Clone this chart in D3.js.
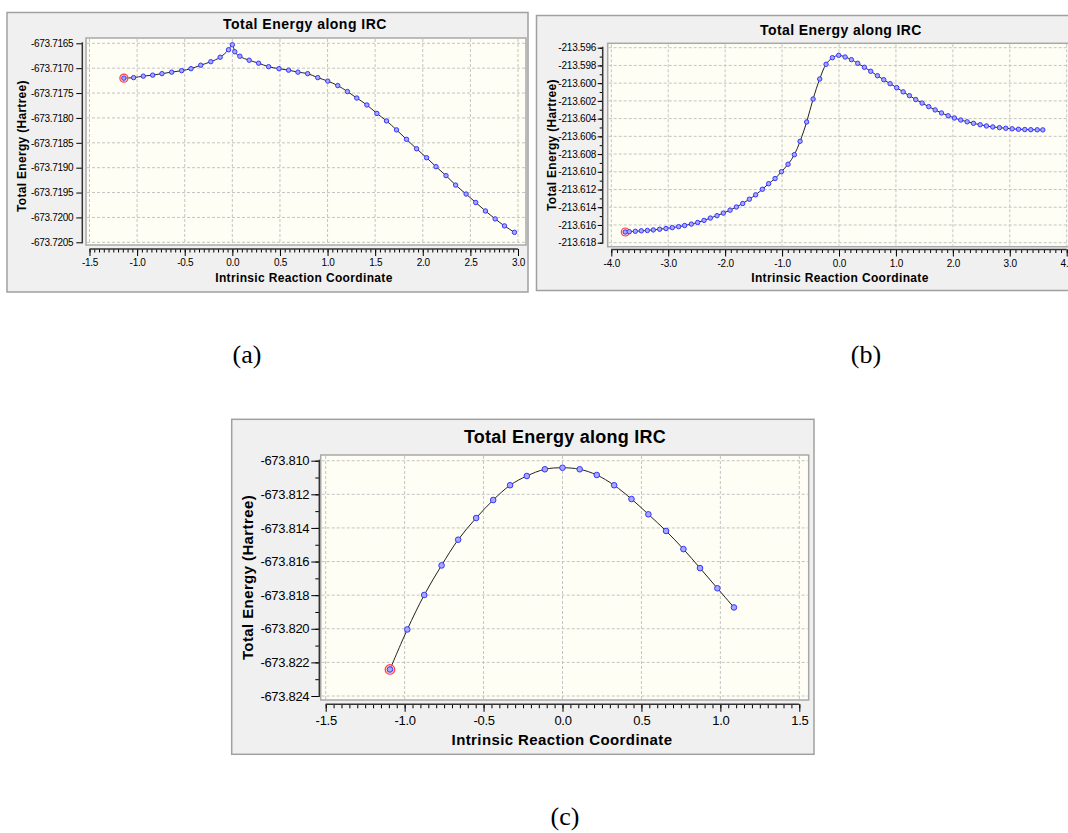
<!DOCTYPE html>
<html><head><meta charset="utf-8">
<script src="https://cdn.jsdelivr.net/npm/d3@7"></script>
<style>body{margin:0;background:#fff} svg{display:block}</style>
</head><body>
<svg id="c" width="1068" height="833"></svg>
<script>
// ---------- Panel (a) ----------
const A_x = [-1.139, -1.037, -0.935, -0.837, -0.739, -0.637, -0.532, -0.434, -0.332, -0.226,
  -0.128, -0.04, 0.0, 0.026, 0.079, 0.177, 0.276, 0.381, 0.49, 0.591,
  0.689, 0.791, 0.897, 1.002, 1.107, 1.209, 1.307, 1.413, 1.518, 1.619,
  1.724, 1.829, 1.935, 2.04, 2.139, 2.244, 2.345, 2.455, 2.556, 2.658,
  2.76, 2.858, 2.963];
const A_y = [-673.71720, -673.71719, -673.71716, -673.71714, -673.71711, -673.71708, -673.71705, -673.71701, -673.71694, -673.71687,
  -673.71678, -673.71663, -673.71653, -673.71667, -673.71676, -673.71684, -673.71690, -673.71697, -673.71701, -673.71704,
  -673.71708, -673.71711, -673.71719, -673.71726, -673.71735, -673.71747, -673.71760, -673.71774, -673.71791, -673.71806,
  -673.71824, -673.71843, -673.71862, -673.71880, -673.71898, -673.71916, -673.71935, -673.71953, -673.71970, -673.71987,
  -673.72003, -673.72017, -673.72030];
const A_xTicks = [-1.5, -1.0, -0.5, 0.0, 0.5, 1.0, 1.5, 2.0, 2.5, 3.0];
const A_yTicks = [-673.7165, -673.7170, -673.7175, -673.7180, -673.7185, -673.7190, -673.7195, -673.7200, -673.7205];

// ---------- Panel (b) ----------
const B_x = [-3.754, -3.684, -3.578, -3.473, -3.367, -3.262, -3.151, -3.04, -2.928, -2.817,
  -2.712, -2.594, -2.483, -2.371, -2.26, -2.143, -2.032, -1.914, -1.803, -1.692,
  -1.575, -1.464, -1.346, -1.236, -1.123, -1.012, -0.895, -0.784, -0.684, -0.568,
  -0.455, -0.339, -0.227, -0.116, -0.005, 0.107, 0.218, 0.329, 0.446, 0.557,
  0.675, 0.786, 0.898, 1.014, 1.127, 1.237, 1.348, 1.46, 1.576, 1.689,
  1.8, 1.917, 2.028, 2.139, 2.251, 2.362, 2.48, 2.59, 2.701, 2.819,
  2.93, 3.042, 3.153, 3.264, 3.369, 3.482, 3.58];
const B_y = [-213.61679, -213.61676, -213.61671, -213.61666, -213.61662, -213.61656, -213.61648, -213.61640, -213.61630, -213.61619,
  -213.61606, -213.61590, -213.61572, -213.61548, -213.61522, -213.61495, -213.61466, -213.61433, -213.61397, -213.61358,
  -213.61309, -213.61260, -213.61197, -213.61134, -213.61076, -213.60999, -213.60915, -213.60807, -213.60656, -213.60438,
  -213.60179, -213.59953, -213.59787, -213.59713, -213.59686, -213.59705, -213.59735, -213.59776, -213.59821, -213.59866,
  -213.59916, -213.59961, -213.60006, -213.60051, -213.60098, -213.60141, -213.60185, -213.60225, -213.60265, -213.60302,
  -213.60336, -213.60368, -213.60393, -213.60416, -213.60436, -213.60453, -213.60469, -213.60483, -213.60494, -213.60502,
  -213.60509, -213.60515, -213.60520, -213.60523, -213.60525, -213.60526, -213.60527];
const B_xTicks = [-4.0, -3.0, -2.0, -1.0, 0.0, 1.0, 2.0, 3.0, 4.0];
const B_yTicks = [-213.596, -213.598, -213.600, -213.602, -213.604, -213.606, -213.608, -213.610, -213.612, -213.614, -213.616, -213.618];

// ---------- Panel (c) ----------
const C_x = [-1.093, -0.983, -0.876, -0.766, -0.661, -0.547, -0.439, -0.332, -0.226, -0.112,
  0.0, 0.109, 0.217, 0.327, 0.437, 0.544, 0.656, 0.766, 0.871, 0.981, 1.086];
const C_y = [-673.82242, -673.82004, -673.81799, -673.81623, -673.81470, -673.81341, -673.81234, -673.81146, -673.81091, -673.81051,
  -673.81042, -673.81051, -673.81085, -673.81146, -673.81228, -673.81319, -673.81418, -673.81526, -673.81639, -673.81759, -673.81873];
const C_xTicks = [-1.5, -1.0, -0.5, 0.0, 0.5, 1.0, 1.5];
const C_yTicks = [-673.810, -673.812, -673.814, -673.816, -673.818, -673.820, -673.822, -673.824];

const TITLE = "Total Energy along IRC";
const XTITLE = "Intrinsic Reaction Coordinate";
const YTITLE = "Total Energy (Hartree)";
const CAPTIONS = ["(a)", "(b)", "(c)"];

const FONT = "'Liberation Sans', Arial, sans-serif";
const svg = d3.select("#c");
svg.append("rect").attr("width", 1068).attr("height", 833).attr("fill", "#fff");

function steps(first, last, step) {
  const n = Math.round(Math.abs(last - first) / step);
  const s = last >= first ? 1 : -1;
  return d3.range(n + 1).map(i => first + s * i * step);
}

function drawPanel(p) {
  const g = svg.append("g");
  g.append("rect").attr("x", p.frame[0]).attr("y", p.frame[1])
    .attr("width", p.frame[2]).attr("height", p.frame[3])
    .attr("fill", "#f0f0f0").attr("stroke", "#a0a0a0").attr("stroke-width", 1.5);

  const x = d3.scaleLinear().domain([p.xTicks[0], p.xTicks[p.xTicks.length - 1]]).range(p.xRange);
  const y = d3.scaleLinear().domain([p.yTicks[0], p.yTicks[p.yTicks.length - 1]]).range(p.yRange);

  // plot area
  g.append("rect").attr("x", p.plot[0]).attr("y", p.plot[1])
    .attr("width", p.plot[2] - p.plot[0]).attr("height", p.plot[3] - p.plot[1])
    .attr("fill", "#fefef4").attr("stroke", "#a8a8a8").attr("stroke-width", 1.5);

  // grid
  const grid = g.append("g").attr("stroke", "#c4c4c4").attr("stroke-width", 1).attr("stroke-dasharray", "3,2");
  grid.selectAll("line.v").data(p.xTicks).join("line").attr("class", "v")
    .attr("x1", d => x(d)).attr("x2", d => x(d))
    .attr("y1", p.plot[1] + 1).attr("y2", p.plot[3] - 1);
  grid.selectAll("line.h").data(p.yTicks).join("line").attr("class", "h")
    .attr("y1", d => y(d)).attr("y2", d => y(d))
    .attr("x1", p.plot[0] + 1).attr("x2", p.plot[2] - 1);

  const styleAxis = sel => {
    sel.select(".domain").remove();
    sel.selectAll(".tick line").attr("stroke", "#000");
    sel.selectAll(".tick text").attr("fill", "#000")
      .style("font-family", FONT).style("font-size", p.tickFont + "px")
      .style("letter-spacing", p.tickLS + "px");
  };

  // x axis
  const xa = g.append("g").attr("transform", `translate(0,${p.xAxisY})`);
  xa.append("g").call(d3.axisBottom(x).tickValues(steps(p.xTicks[0], p.xTicks[p.xTicks.length - 1], p.xMinor))
    .tickSize(p.xMinorLen).tickFormat("")).call(styleAxis);
  xa.append("g").call(d3.axisBottom(x).tickValues(p.xTicks).tickSize(p.xMajorLen).tickPadding(p.xPad)
    .tickFormat(d => d.toFixed(1))).call(styleAxis);
  xa.append("line").attr("x1", x(p.xTicks[0])).attr("x2", Math.min(x(p.xTicks[p.xTicks.length - 1]), p.plot[2]))
    .attr("stroke", "#333").attr("stroke-width", 1.5);

  // y axis
  const ya = g.append("g").attr("transform", `translate(${p.yAxisX},0)`);
  if (p.yMinor) {
    ya.append("g").call(d3.axisLeft(y).tickValues(steps(p.yTicks[0], p.yTicks[p.yTicks.length - 1], p.yMinor))
      .tickSize(p.yMinorLen).tickFormat("")).call(styleAxis);
  }
  ya.append("g").call(d3.axisLeft(y).tickValues(p.yTicks).tickSize(p.yMajorLen).tickPadding(p.yPad)
    .tickFormat(d => d.toFixed(p.yDec))).call(styleAxis);
  ya.append("line").attr("y1", y(p.yTicks[0]) - 1).attr("y2", y(p.yTicks[p.yTicks.length - 1]) + 1)
    .attr("stroke", "#333").attr("stroke-width", 1.5);

  // data
  const pts = p.xs.map((v, i) => [v, p.ys[i]]);
  const line = d3.line().x(d => x(d[0])).y(d => y(d[1])).curve(p.curve);
  g.append("path").attr("d", line(pts)).attr("fill", "none").attr("stroke", "#222").attr("stroke-width", 1);
  g.append("circle").attr("cx", x(pts[0][0])).attr("cy", y(pts[0][1])).attr("r", p.rRed)
    .attr("fill", "#ffb8b8").attr("fill-opacity", 0.6).attr("stroke", "#ff4040").attr("stroke-width", 1.2);
  g.append("g").selectAll("circle").data(pts).join("circle")
    .attr("cx", d => x(d[0])).attr("cy", d => y(d[1])).attr("r", p.r)
    .attr("fill", "#a8a8ff").attr("stroke", "#3535ff").attr("stroke-width", 1);

  // texts
  g.append("text").attr("x", p.title[0]).attr("y", p.title[1]).attr("text-anchor", "middle")
    .style("font-family", FONT).style("font-weight", "bold").style("font-size", p.title[2] + "px")
    .style("letter-spacing", p.title[3] + "px").text(TITLE);
  g.append("text").attr("x", p.xTitle[0]).attr("y", p.xTitle[1]).attr("text-anchor", "middle")
    .style("font-family", FONT).style("font-weight", "bold").style("font-size", p.xTitle[2] + "px")
    .style("letter-spacing", p.xTitle[3] + "px").text(XTITLE);
  g.append("text").attr("transform", `translate(${p.yTitle[0]},${p.yTitle[1]}) rotate(-90)`).attr("text-anchor", "middle")
    .style("font-family", FONT).style("font-weight", "bold").style("font-size", p.yTitle[2] + "px")
    .style("letter-spacing", p.yTitle[3] + "px").text(YTITLE);
  svg.append("text").attr("x", p.caption[0]).attr("y", p.caption[1]).attr("text-anchor", "middle")
    .style("font-family", "'Liberation Serif', 'Times New Roman', serif").style("font-size", "26px")
    .text(p.caption[2]);
}

drawPanel({
  xs: A_x, ys: A_y, xTicks: A_xTicks, yTicks: A_yTicks,
  frame: [7, 12.5, 521, 279.5], plot: [86, 38, 526, 245],
  xRange: [89.5, 518], yRange: [43.3, 242.3],
  xAxisY: 249, yAxisX: 82.3, xMinor: 0.05, xMinorLen: 3.5, xMajorLen: 7, xPad: 3.2,
  yMinor: null, yMajorLen: 6, yPad: 3, yDec: 4, tickFont: 10, tickLS: -0.3,
  r: 2.2, rRed: 4, curve: d3.curveMonotoneX,
  title: [305, 29.3, 14, 0.5], xTitle: [304, 281.7, 12, 0.35], yTitle: [26, 146, 12, 0.3],
  caption: [247, 363, CAPTIONS[0]]
});
drawPanel({
  xs: B_x, ys: B_y, xTicks: B_xTicks, yTicks: B_yTicks,
  frame: [536.5, 15.5, 560, 275], plot: [607.7, 43.3, 1090, 246.7],
  xRange: [611.3, 1066.7], yRange: [47.7, 242.7],
  xAxisY: 249.5, yAxisX: 602.7, xMinor: 0.1, xMinorLen: 3.5, xMajorLen: 7, xPad: 3.2,
  yMinor: 0.001, yMinorLen: 3, yMajorLen: 5, yPad: 1.5, yDec: 3, tickFont: 10, tickLS: -0.2,
  r: 2.2, rRed: 4, curve: d3.curveCatmullRom,
  title: [841, 35, 14, 0.4], xTitle: [840, 281.7, 12, 0.35], yTitle: [555.7, 145, 12, 0.3],
  caption: [866, 363, CAPTIONS[1]]
});
drawPanel({
  xs: C_x, ys: C_y, xTicks: C_xTicks, yTicks: C_yTicks,
  frame: [231.7, 419.3, 582.3, 335], plot: [320.7, 455, 808.7, 700],
  xRange: [325.7, 799.3], yRange: [460.7, 696],
  xAxisY: 704.3, yAxisX: 319.3, xMinor: 0.05, xMinorLen: 4, xMajorLen: 7.5, xPad: 4.3,
  yMinor: 0.001, yMinorLen: 4, yMajorLen: 8, yPad: 2, yDec: 3, tickFont: 13, tickLS: -0.3,
  r: 2.8, rRed: 4.8, curve: d3.curveCatmullRom,
  title: [565, 443.3, 18, 0.25], xTitle: [562, 745, 15, 0.4], yTitle: [252.7, 577.5, 15, 0.4],
  caption: [565, 825, CAPTIONS[2]]
});
</script>
</body></html>
